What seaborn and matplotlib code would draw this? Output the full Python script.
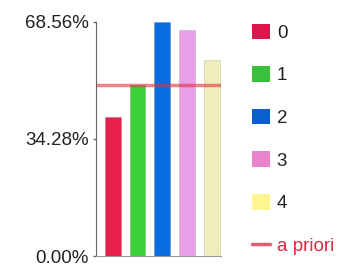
import matplotlib
matplotlib.use('Agg')
import matplotlib.pyplot as plt
from matplotlib.patches import Patch
from matplotlib.lines import Line2D
import seaborn as sns

# Données
categories = ['0', '1', '2', '3', '4']
values = [40.6, 50.1, 68.56, 66.2, 57.4]
a_priori = 50.1
y_ticks = [0.0, 34.28, 68.56]
y_labels = ['0.00%', '34.28%', '68.56%']
bar_colors = ['#e8204a', '#3bd13b', '#0a6ee0', '#eaa0e8', '#eeeebb']
legend_colors = ['#d8184a', '#3cbf3c', '#0a5fd0', '#e884cc', '#fff590']

sns.set_style('white')
plt.rcParams['font.family'] = ['Liberation Sans Narrow', 'Liberation Sans', 'DejaVu Sans']

fig = plt.figure(figsize=(3.45, 2.67), dpi=100)
ax = fig.add_axes([0.278, 0.041, 0.363, 0.877])

sns.barplot(x=categories, y=values, hue=categories, palette=bar_colors, saturation=1,
            width=0.64, legend=False, ax=ax, edgecolor='#00000022', linewidth=0.6)
ax.axhline(a_priori, color='#e0303c', alpha=0.6, lw=2.5)

ax.set_xlim(-0.67, 4.36)
ax.set_ylim(0, 68.56)
ax.set_yticks(y_ticks)
ax.set_yticklabels(y_labels, fontsize=13.5, color='#222222')
ax.set_xticks([])
ax.set_xlabel('')
ax.set_ylabel('')
ax.tick_params(axis='y', length=2, width=1, color='#666666', pad=3, left=True)
sns.despine(ax=ax)
ax.spines['left'].set_color('#666666')
ax.spines['bottom'].set_color('#999999')

handles = [Patch(facecolor=c, edgecolor='none') for c in legend_colors]
handles.append(Line2D([0], [0], color='#e06070', lw=2.5))
labels = categories + ['a priori']
leg = fig.legend(handles, labels, loc='upper left', bbox_to_anchor=(0.71, 0.94),
                 frameon=False, fontsize=13.5, handlelength=0.95, handleheight=0.9,
                 handletextpad=0.35, labelspacing=1.3, borderaxespad=0)
for t in leg.get_texts():
    t.set_color('#222222')
leg.get_texts()[-1].set_color('#d82840')

fig.savefig('out.png', dpi=100)
